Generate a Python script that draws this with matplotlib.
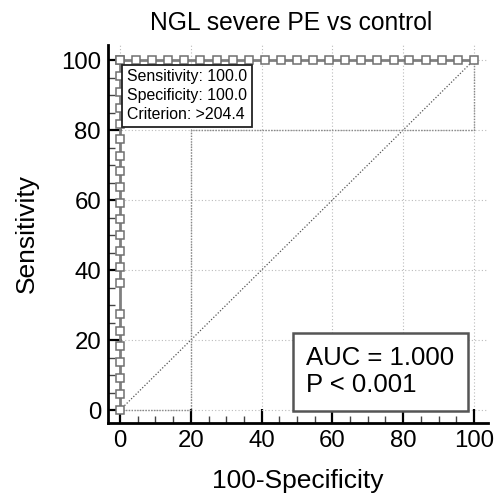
import numpy as np
import matplotlib
matplotlib.use("Agg")
import matplotlib.pyplot as plt
from matplotlib.ticker import MultipleLocator

plt.rcParams["font.family"] = ["Liberation Sans", "DejaVu Sans"]

# ROC points (100-Specificity, Sensitivity)
ROC_FPR = [0.0] * 22 + [0.0, 4.5, 9.1, 13.6, 18.2, 22.7, 27.3, 31.8, 36.4, 40.9,
                        45.5, 50.0, 54.5, 59.1, 63.6, 68.2, 72.7, 77.3, 81.8,
                        86.4, 90.9, 95.5, 100.0]
ROC_TPR = [0.0, 4.5, 9.1, 13.6, 18.2, 22.7, 27.3, 36.4, 40.9, 45.5, 50.0,
           54.5, 59.1, 63.6, 68.2, 72.7, 77.3, 81.8, 86.4, 90.9, 95.5,
           100.0] + [100.0] * 23

# confidence bound outline
CI_X = [0, 20, 20, 100, 100]
CI_Y = [0, 0, 80, 80, 100]

TICKS = [0, 20, 40, 60, 80, 100]

TITLE = "NGL severe PE vs control"
X_LABEL = "100-Specificity"
Y_LABEL = "Sensitivity"
INFO_TEXT = "Sensitivity: 100.0\nSpecificity: 100.0\nCriterion: >204.4"
AUC_TEXT = "AUC = 1.000\nP < 0.001"


fig = plt.figure(figsize=(4.98, 4.97), dpi=100)
ax = fig.add_axes([0.2169, 0.1489, 0.7631, 0.7606])

ax.set_xlim(-3.4, 104)
ax.set_ylim(-3.7, 104.3)

ax.grid(True, color="#bbbbbb", linestyle=(0, (1, 2)), linewidth=0.8)
ax.set_axisbelow(True)

ax.plot([0, 100], [0, 100], color="#555555", linestyle=(0, (1, 1.5)),
        linewidth=0.9, zorder=2)
ax.plot(CI_X, CI_Y, color="#888888", linestyle=(0, (1, 1)),
        linewidth=1.0, zorder=2)

ax.plot(ROC_FPR, ROC_TPR, color="#808080", linewidth=2.0, marker="s",
        markersize=6.0, markerfacecolor="white", markeredgecolor="#707070",
        markeredgewidth=1.1, zorder=3, clip_on=False)

for side in ["top", "right"]:
    ax.spines[side].set_visible(False)
for side in ["left", "bottom"]:
    ax.spines[side].set_linewidth(2.0)
    ax.spines[side].set_color("black")

ax.set_xticks(TICKS)
ax.set_yticks(TICKS)
ax.xaxis.set_minor_locator(MultipleLocator(5))
ax.yaxis.set_minor_locator(MultipleLocator(5))
ax.tick_params(which="major", direction="in", length=10, width=1.6,
               labelsize=17.3, pad=5, color="black")
ax.tick_params(which="minor", direction="in", length=5, width=1.0,
               color="#444444")

ax.set_title(TITLE, fontsize=17.7, pad=11, x=0.482)
ax.set_xlabel(X_LABEL, fontsize=19, labelpad=12)
ax.set_ylabel(Y_LABEL, fontsize=19, labelpad=16)

ax.text(1.9, 97.3, INFO_TEXT, fontsize=11.4, va="top", ha="left",
        linespacing=1.32, zorder=5,
        bbox=dict(boxstyle="square,pad=0.3", facecolor="white",
                  edgecolor="#222222", linewidth=1.3))

ax.text(52.6, 10.9, AUC_TEXT, fontsize=18.5, va="center", ha="left",
        linespacing=1.15, zorder=5,
        bbox=dict(boxstyle="square,pad=0.52", facecolor="white",
                  edgecolor="#555555", linewidth=1.8))

fig.savefig("out.png", dpi=100)
